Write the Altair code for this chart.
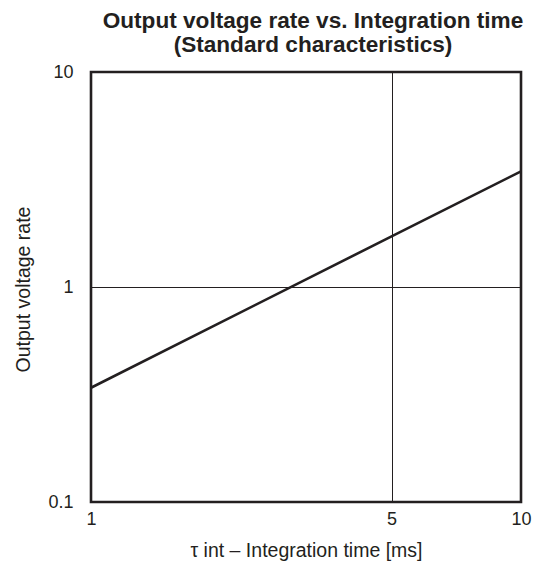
import altair as alt
import pandas as pd

# Data
x_time = [1, 5, 10]            # integration time [ms]
y_rate = [0.34, 1.72, 3.45]    # output voltage rate

x_ticks = [1, 5, 10]
y_ticks = [0.1, 1, 10]

df = pd.DataFrame({"t": x_time, "v": y_rate})

ink = "#231f20"
font = "Liberation Sans"

line = alt.Chart(df).mark_line(color=ink, strokeWidth=2.6).encode(
    x=alt.X(
        "t:Q",
        scale=alt.Scale(type="log", domain=[1, 10]),
        axis=alt.Axis(
            values=x_ticks,
            format="~g",
            title="τ int – Integration time [ms]",
            grid=True,
            gridColor=ink,
            gridWidth=1,
            gridOpacity=1,
            ticks=False,
            domain=False,
            labelFlush=False,
            labelOverlap=False,
            labelFont=font,
            labelFontSize=18,
            labelColor=ink,
            labelPadding=8,
            titleFont=font,
            titleFontSize=19.5,
            titleFontWeight="normal",
            titleColor=ink,
            titleBaseline="alphabetic",
            titleY=54,
        ),
    ),
    y=alt.Y(
        "v:Q",
        scale=alt.Scale(type="log", domain=[0.1, 10]),
        axis=alt.Axis(
            values=y_ticks,
            format="~g",
            title="Output voltage rate",
            grid=True,
            gridColor=ink,
            gridWidth=1,
            gridOpacity=1,
            ticks=False,
            domain=False,
            labelFlush=False,
            labelOverlap=False,
            labelFont=font,
            labelFontSize=18,
            labelColor=ink,
            labelPadding=18,
            titleFont=font,
            titleFontSize=19.5,
            titleFontWeight="normal",
            titleColor=ink,
            titleBaseline="alphabetic",
            titleAngle=-90,
            titleX=-62,
            titleY=217,
            titleAlign="center",
        ),
    ),
)

chart = line.properties(
    width=430,
    height=430,
    autosize=alt.AutoSizeParams(type="none"),
    padding={"left": 83, "top": 64, "right": 13, "bottom": 61},
    title=alt.TitleParams(
        text=["Output voltage rate vs. Integration time", "(Standard characteristics)"],
        font=font,
        fontSize=22.6,
        fontWeight="bold",
        color=ink,
        anchor="middle",
        lineHeight=24,
        offset=6,
        dx=7,
    ),
).configure_view(
    stroke=ink,
    strokeWidth=2.6,
)

chart.save("out.html", embed_options={"renderer": "svg", "actions": False})
